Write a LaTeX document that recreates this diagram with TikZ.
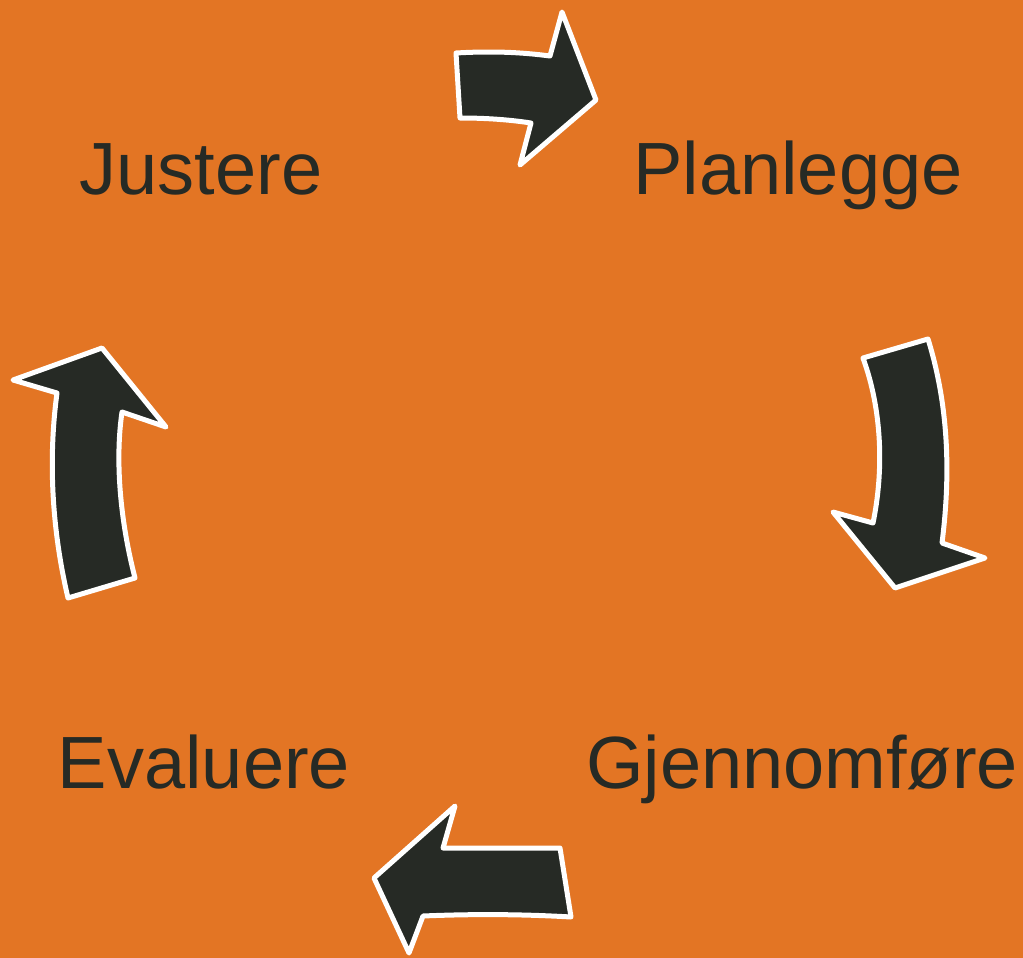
\documentclass[tikz,border=0pt]{standalone}
\usepackage{fontspec}
\setmainfont{Liberation Sans}
\definecolor{bgorange}{HTML}{E37524}
\definecolor{darkink}{HTML}{262A25}
\tikzset{
  cyclearrow/.style={fill=darkink, draw=white, line width=5pt, line join=round},
  steplabel/.style={anchor=base, text=darkink, inner sep=0pt, font=\fontsize{74}{80}\selectfont}
}
\begin{document}
\begin{tikzpicture}[x=1pt,y=-1pt]
\fill[bgorange] (0,0) rectangle (1023,958);
\useasboundingbox (0,0) rectangle (1023,958);
% labels
\node[steplabel] (justere) at (201,194) {Justere};
\node[steplabel] (planlegge) at (798,194) {Planlegge};
\node[steplabel] (gjennomfore) at (802,788) {Gjennomføre};
\node[steplabel] (evaluere) at (204,788) {Evaluere};
% top arrow (right)
\draw[cyclearrow] (456,53) .. controls (490,51) and (520,52) .. (550,56) -- (562,12) -- (596,100) -- (520,165) -- (531,123) .. controls (505,119) and (480,118) .. (460,118) -- cycle;
% right arrow (down)
\draw[cyclearrow] (863,358) -- (928,339) .. controls (950,410) and (950,480) .. (942,543) -- (985,558) -- (895,588) -- (833,512) -- (873,523) .. controls (884,470) and (882,410) .. (863,358) -- cycle;
% bottom arrow (left)
\draw[cyclearrow] (560,848) -- (571,917) .. controls (520,914) and (470,914) .. (423,916) -- (409,953) -- (374,878) -- (455,806) -- (443,848) -- cycle;
% left arrow (up)
\draw[cyclearrow] (68,598) -- (135,578) .. controls (120,520) and (115,460) .. (122,412) -- (166,427) -- (102,348) -- (13,380) -- (57,393) .. controls (48,460) and (52,530) .. (68,598) -- cycle;
\end{tikzpicture}
\end{document}
